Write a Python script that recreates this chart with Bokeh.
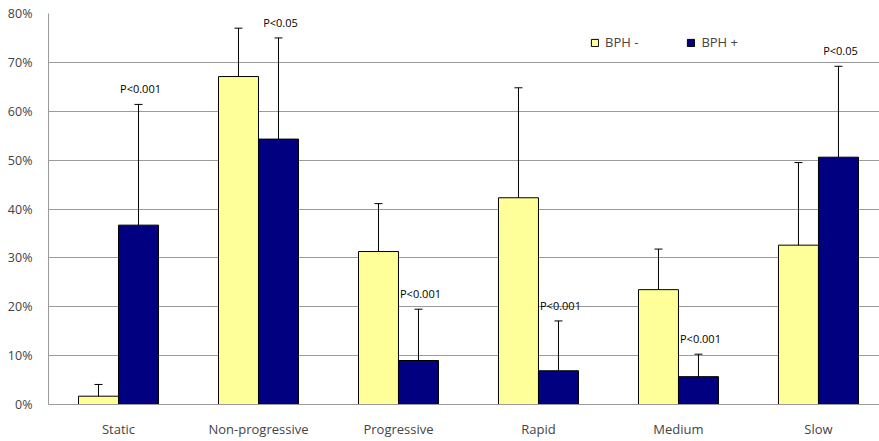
from bokeh.plotting import figure
from bokeh.models import (ColumnDataSource, Whisker, TeeHead, Legend, LegendItem,
                          PrintfTickFormatter, Range1d, FixedTicker)
from bokeh.transform import dodge
from bokeh.core.properties import value
from bokeh.embed import file_html
from bokeh.resources import INLINE

categories = ["Static", "Non-progressive", "Progressive", "Rapid", "Medium", "Slow"]
bph_neg = [1.7, 67.1, 31.3, 42.3, 23.5, 32.6]
bph_neg_lo = [-0.7, 57.2, 21.5, 19.8, 15.1, 15.8]
bph_neg_hi = [4.1, 77.0, 41.1, 64.8, 31.8, 49.5]
bph_pos = [36.7, 54.3, 9.0, 6.9, 5.7, 50.6]
bph_pos_lo = [12.0, 33.6, -1.5, -3.3, 1.1, 32.0]
bph_pos_hi = [61.4, 75.0, 19.5, 17.1, 10.3, 69.2]
p_labels = ["P<0.001", "P<0.05", "P<0.001", "P<0.001", "P<0.001", "P<0.05"]
y_ticks = [0, 10, 20, 30, 40, 50, 60, 70, 80]

FONT = "Open Sans"

xc = [i + 0.5 for i in range(len(categories))]
src = ColumnDataSource(dict(xc=xc, cat=categories, neg=bph_neg, neg_lo=bph_neg_lo, neg_hi=bph_neg_hi,
                            pos=bph_pos, pos_lo=bph_pos_lo, pos_hi=bph_pos_hi, plab=p_labels))

# the right edge of the plot area cuts into the last group, as in the original
p = figure(x_range=Range1d(0, 5.936), y_range=Range1d(0, 80),
           width=879, height=441, output_backend="svg", toolbar_location=None,
           min_border_left=48, min_border_right=0, min_border_top=13, min_border_bottom=37)
p.outline_line_color = None
p.background_fill_color = "white"

W = 0.2857
r1 = p.vbar(x=dodge("xc", -W / 2), top="neg", width=W, source=src,
            fill_color="#FFFF99", line_color="black", line_width=1)
r2 = p.vbar(x=dodge("xc", W / 2), top="pos", width=W, source=src,
            fill_color="#000080", line_color="black", line_width=1)

for base, lo, hi in [(dodge("xc", -W / 2), "neg_lo", "neg_hi"),
                     (dodge("xc", W / 2), "pos_lo", "pos_hi")]:
    w = Whisker(base=base, lower=lo, upper=hi, source=src, line_color="black", line_width=1,
                upper_head=TeeHead(size=8, line_color="black", line_width=1),
                lower_head=TeeHead(size=8, line_color="black", line_width=1))
    p.add_layout(w)

p.text(x=dodge("xc", W / 2), y="pos_hi", text="plab", source=src,
       text_align="center", text_baseline="bottom", x_offset=2, y_offset=-8,
       text_font=value(FONT), text_font_size="11px", text_color="black")

p.xgrid.grid_line_color = None
p.ygrid.grid_line_color = "#9a9a9a"
p.ygrid.ticker = y_ticks
p.yaxis.ticker = y_ticks
p.yaxis.formatter = PrintfTickFormatter(format="%d%%")
p.yaxis.axis_line_color = "#9a9a9a"
p.yaxis.major_tick_line_color = None
p.yaxis.minor_tick_line_color = None
p.yaxis.major_label_text_font = FONT
p.yaxis.major_label_text_font_size = "12.5px"
p.yaxis.major_label_standoff = 10

p.xaxis.ticker = FixedTicker(ticks=xc)
p.xaxis.major_label_overrides = {x: c for x, c in zip(xc, categories)}
p.xaxis.axis_line_color = "#9a9a9a"
p.xaxis.major_tick_line_color = None
p.xaxis.minor_tick_line_color = None
p.xaxis.major_label_text_font = FONT
p.xaxis.major_label_text_font_size = "13px"
p.xaxis.major_label_standoff = 9

legend = Legend(items=[LegendItem(label="BPH -", renderers=[r1]),
                       LegendItem(label="BPH +", renderers=[r2])],
                orientation="horizontal", location=(542, 353),
                glyph_width=9, glyph_height=9, label_standoff=6, spacing=48,
                label_text_font=FONT, label_text_font_size="13px",
                border_line_color=None, background_fill_alpha=0, padding=0, margin=0)
p.add_layout(legend)

open("out.html", "w").write(file_html(p, INLINE))
